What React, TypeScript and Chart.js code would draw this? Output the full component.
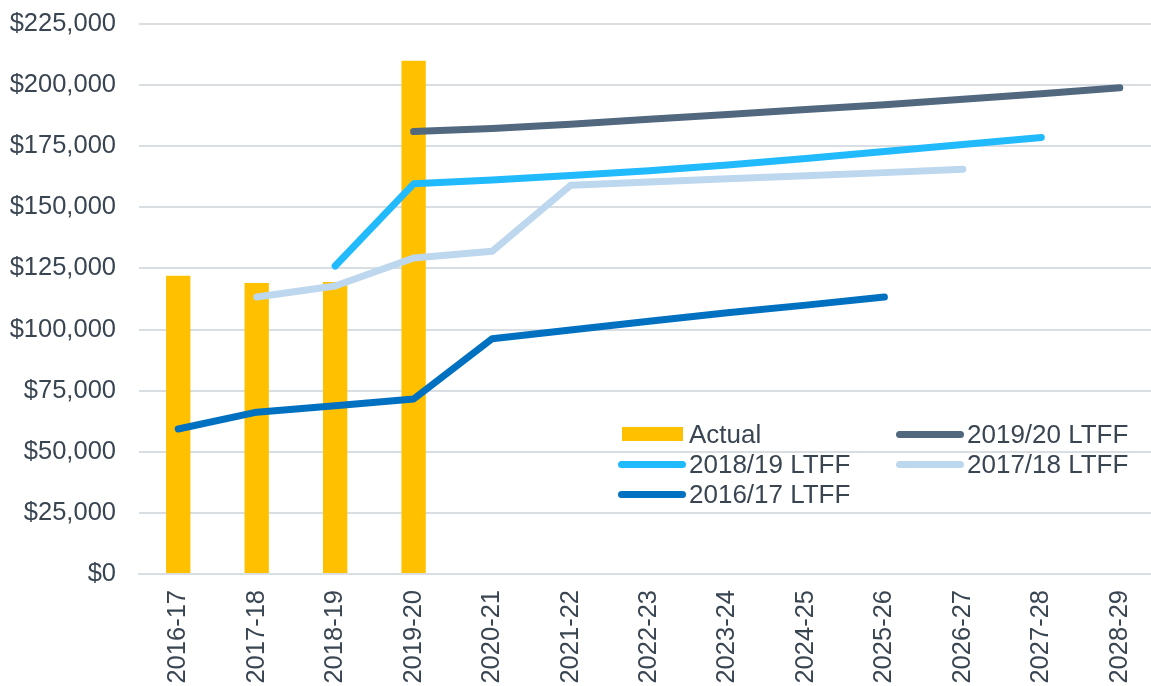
import React, { useEffect, useRef } from "react";
import { Chart, registerables } from "chart.js";

Chart.register(...registerables);

const categories = [
  "2016-17", "2017-18", "2018-19", "2019-20", "2020-21", "2021-22", "2022-23",
  "2023-24", "2024-25", "2025-26", "2026-27", "2027-28", "2028-29",
];

const actual = [122000, 119000, 119500, 210000, null, null, null, null, null, null, null, null, null];
const ltff1920 = [null, null, null, 181000, 182200, 184000, 186000, 188000, 190000, 192000, 194200, 196500, 198900];
const ltff1819 = [null, null, 126000, 159600, 161200, 163000, 165000, 167300, 170000, 172800, 175700, 178600, null];
const ltff1718 = [null, 113300, 117800, 129300, 132000, 159000, 160400, 161700, 162900, 164200, 165600, null, null];
const ltff1617 = [59300, 66200, 68800, 71600, 96200, 99800, 103400, 106900, 110000, 113300, null, null, null];

const yTicks = [0, 25000, 50000, 75000, 100000, 125000, 150000, 175000, 200000, 225000];

const TEXT = "#3a4552";
const FONT = "'Liberation Sans', Arial, sans-serif";

const legendItems = [
  { label: "Actual", color: "#FFC000", type: "bar", col: 0, row: 0 },
  { label: "2019/20 LTFF", color: "#51687E", type: "line", col: 1, row: 0 },
  { label: "2018/19 LTFF", color: "#21BAFD", type: "line", col: 0, row: 1 },
  { label: "2017/18 LTFF", color: "#BDD7EE", type: "line", col: 1, row: 1 },
  { label: "2016/17 LTFF", color: "#0070C0", type: "line", col: 0, row: 2 },
];

export default function App() {
  const ref = useRef<HTMLCanvasElement | null>(null);

  useEffect(() => {
    if (!ref.current) return;
    const lineDs = (label: string, data: (number | null)[], color: string) => ({
      type: "line" as const,
      label,
      data,
      borderColor: color,
      backgroundColor: color,
      borderWidth: 7,
      borderCapStyle: "round" as const,
      borderJoinStyle: "round" as const,
      pointRadius: 0,
      tension: 0,
      spanGaps: false,
      order: 1,
    });
    const chart = new Chart(ref.current, {
      type: "bar",
      data: {
        labels: categories,
        datasets: [
          {
            type: "bar",
            label: "Actual",
            data: actual,
            backgroundColor: "#FFC000",
            categoryPercentage: 1,
            barPercentage: 0.31,
            order: 10,
          },
          lineDs("2019/20 LTFF", ltff1920, "#51687E"),
          lineDs("2018/19 LTFF", ltff1819, "#21BAFD"),
          lineDs("2017/18 LTFF", ltff1718, "#BDD7EE"),
          lineDs("2016/17 LTFF", ltff1617, "#0070C0"),
        ] as any,
      },
      options: {
        animation: false,
        responsive: false,
        maintainAspectRatio: false,
        layout: { padding: { top: 24, right: 1, left: 0, bottom: 0 } },
        plugins: {
          legend: { display: false },
          tooltip: { enabled: false },
        },
        scales: {
          x: {
            grid: { display: false, drawTicks: false },
            border: { display: true, color: "#d9dee2", width: 2 },
            ticks: {
              color: TEXT,
              font: { family: FONT, size: 25.5 },
              minRotation: 90,
              maxRotation: 90,
              padding: 16,
              autoSkip: false,
            },
            afterFit: (s: any) => {
              s.height = 112;
              s.paddingLeft = 0;
              s.paddingRight = 0;
            },
          },
          y: {
            min: 0,
            max: 225000,
            afterBuildTicks: (s: any) => {
              s.ticks = yTicks.map((v) => ({ value: v }));
            },
            grid: { color: "#d9dee2", lineWidth: 2, drawTicks: false },
            border: { display: false },
            ticks: {
              color: TEXT,
              font: { family: FONT, size: 25.5 },
              padding: 23,
              callback: (v: any) => "$" + Number(v).toLocaleString("en-US"),
            },
            afterFit: (s: any) => {
              s.width = 139;
              s.paddingTop = 0;
              s.paddingBottom = 0;
            },
          },
        },
      },
    });
    return () => chart.destroy();
  }, []);

  const colX = [618, 896];
  const rowY = [434, 464, 494];

  return (
    <div style={{ position: "fixed", left: 0, top: 0, width: 1160, height: 686, background: "#fff" }}>
      <canvas ref={ref} width={1160} height={686} style={{ display: "block" }} />
      {legendItems.map((it) => (
        <div
          key={it.label}
          style={{
            position: "absolute",
            left: colX[it.col],
            top: rowY[it.row] - 15,
            height: 30,
            display: "flex",
            alignItems: "center",
            fontFamily: FONT,
            fontSize: 26,
            color: TEXT,
            whiteSpace: "nowrap",
          }}
        >
          {it.type === "bar" ? (
            <span style={{ display: "inline-block", width: 61, height: 14, background: it.color, marginLeft: 4, marginRight: 6 }} />
          ) : (
            <span style={{ display: "inline-block", width: 68, height: 7, borderRadius: 4, background: it.color, marginRight: 3 }} />
          )}
          <span>{it.label}</span>
        </div>
      ))}
    </div>
  );
}
